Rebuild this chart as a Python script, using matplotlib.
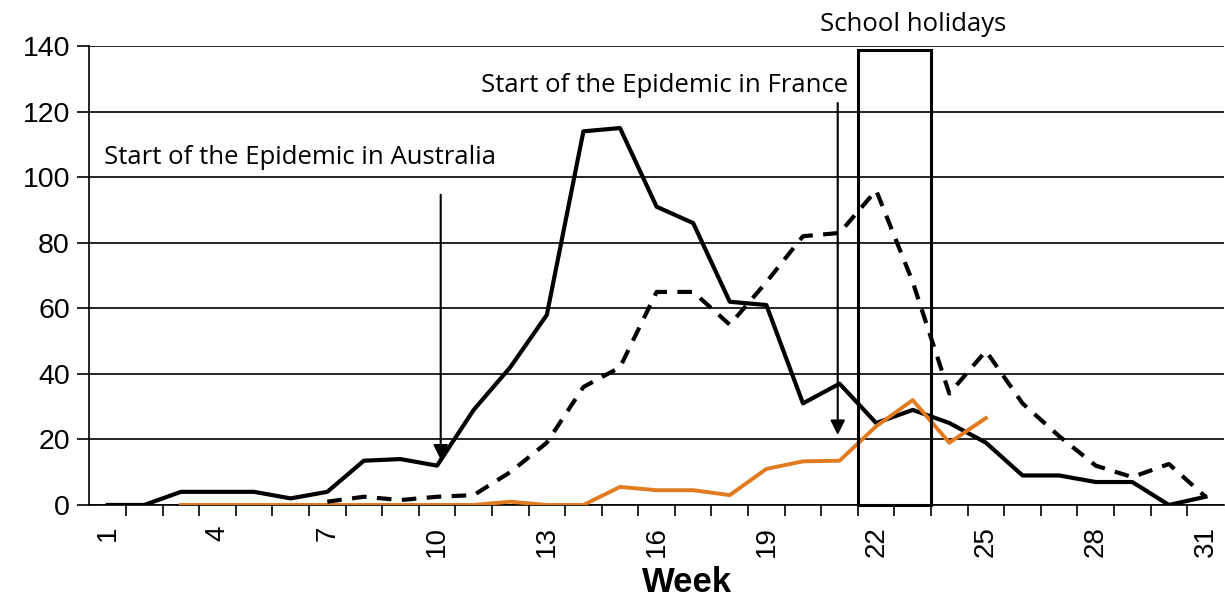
import numpy as np
import matplotlib
matplotlib.use("Agg")
import matplotlib.pyplot as plt
from matplotlib.patches import Rectangle

plt.rcParams["font.family"] = ["Liberation Sans", "DejaVu Sans"]

# weekly case counts
weeks = list(range(1, 32))
australia = [0, 0, 4, 4, 4, 2, 4, 13.5, 14, 12, 29, 42, 58, 114, 115, 91, 86,
             62, 61, 31, 37, 25, 29, 25, 19, 9, 9, 7, 7, 0, 2.5]
france_weeks = list(range(7, 32))
france = [1, 2.5, 1.5, 2.5, 3, 10, 19, 36, 42, 65, 65, 55, 68, 82, 83, 96,
          68, 34, 47, 31, 21, 12, 8.5, 12.5, 2.5]
orange_weeks = list(range(3, 26))
orange = [0, 0, 0, 0, 0, 0, 0, 0, 0, 1, 0, 0, 5.5, 4.5, 4.5, 3, 11, 13.3,
          13.5, 24, 32, 19, 26.5]
xtick_weeks = [1, 4, 7, 10, 13, 16, 19, 22, 25, 28, 31]
yticks = [0, 20, 40, 60, 80, 100, 120, 140]

fig = plt.figure(figsize=(12.25, 5.99), dpi=100)
ax = fig.add_axes([0.073, 0.157, 0.926, 0.766])

ax.plot(weeks, australia, color="black", lw=3, zorder=3)
ax.plot(france_weeks, france, color="black", lw=3, ls=(0, (3.5, 2.5)), zorder=4)
ax.plot(orange_weeks, orange, color="#E27A20", lw=2.8, zorder=3.5)

ax.set_xlim(0.5, 31.5)
ax.set_ylim(0, 140)
ax.set_yticks(yticks)
ax.yaxis.grid(True, color="black", lw=1.2)
ax.set_axisbelow(True)
ax.tick_params(axis="y", labelsize=20.5, length=9, width=1.2, pad=5)

ax.set_xticks(xtick_weeks)
ax.set_xticklabels([str(w) for w in xtick_weeks], rotation=90, fontsize=20)
ax.tick_params(axis="x", which="major", length=0, pad=15)
ax.set_xticks(np.arange(1.5, 31.5, 1), minor=True)
ax.tick_params(axis="x", which="minor", length=8, width=1.2)

for s in ["top", "right"]:
    ax.spines[s].set_visible(False)
for s in ["left", "bottom"]:
    ax.spines[s].set_linewidth(1.2)

fig.text(687 / 1225, 1 - 582 / 599, "Week", fontsize=25, fontweight="bold",
         ha="center", va="center")

# school holidays box
ax.add_patch(Rectangle((21.5, 0), 2, 138.7, fill=False, ec="black", lw=2.2,
                       zorder=5, clip_on=False))
ax.text(23.0, 146.5, "School holidays", fontsize=18.5, family="Open Sans",
        ha="center", va="center", clip_on=False)

# arrows and notes
ax.annotate("", xy=(10.1, 13), xytext=(10.1, 95.5),
            arrowprops=dict(arrowstyle="-|>", color="black", lw=1.5,
                            mutation_scale=22))
ax.text(0.9, 106, "Start of the Epidemic in Australia", fontsize=18.5,
        family="Open Sans", ha="left", va="center")
ax.annotate("", xy=(20.95, 20.5), xytext=(20.95, 123.5),
            arrowprops=dict(arrowstyle="-|>", color="black", lw=1.5,
                            mutation_scale=22))
ax.text(11.2, 128, "Start of the Epidemic in France", fontsize=18.5,
        family="Open Sans", ha="left", va="center")

fig.savefig("out.png", dpi=100)
